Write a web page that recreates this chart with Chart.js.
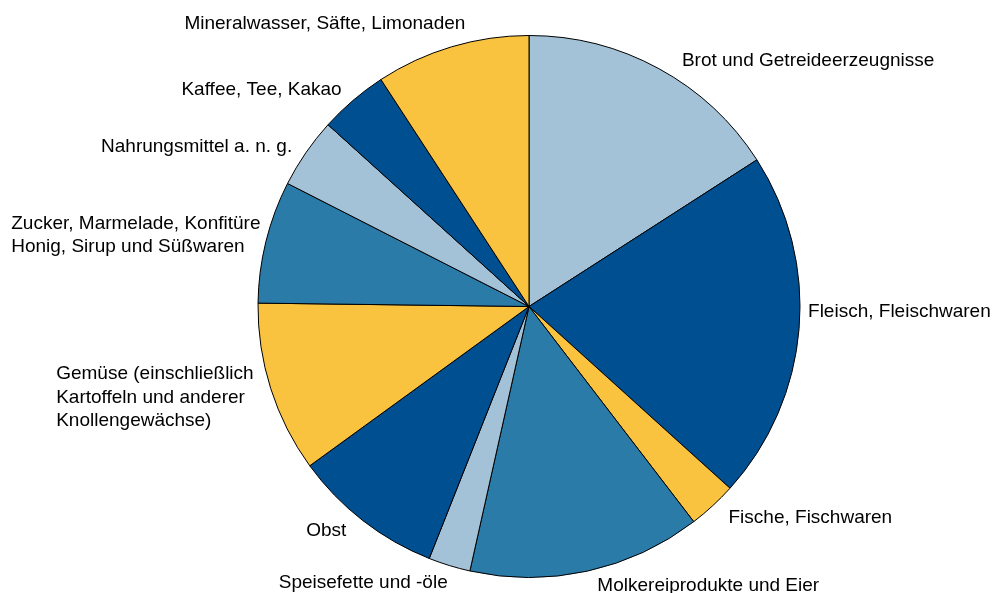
<!DOCTYPE html>
<html>
<head>
<meta charset="utf-8">
<title>Ausgaben für Nahrungsmittel</title>
<script src="https://cdn.jsdelivr.net/npm/chart.js@4"></script>
<style>
  body { margin: 0; background: #fff; }
  #wrap { width: 993px; height: 593px; }
</style>
</head>
<body>
<div id="wrap"><canvas id="myChart"></canvas></div>
<script>
// categories (clockwise from 12 o'clock), multi-line labels as arrays
const categories = [
    'Brot und Getreideerzeugnisse',
    'Fleisch, Fleischwaren',
    'Fische, Fischwaren',
    'Molkereiprodukte und Eier',
    'Speisefette und -öle',
    'Obst',
    ['Gemüse (einschließlich', 'Kartoffeln und anderer', 'Knollengewächse)'],
    ['Zucker, Marmelade, Konfitüre', 'Honig, Sirup und Süßwaren'],
    'Nahrungsmittel a. n. g.',
    'Kaffee, Tee, Kakao',
    'Mineralwasser, Säfte, Limonaden'
];
// share in %
const shares = [15.9, 20.8, 2.9, 13.9, 2.5, 9.0, 10.2, 7.3, 4.2, 4.1, 9.2];

// styling
const palette = ['#a4c2d7', '#004f91', '#f9c33f', '#2b7ba9'];
const sliceColors = shares.map((v, i) => palette[i % palette.length]);
// small per-label shifts [dx, dy] away from the default outside position
const labelNudge = [[14, 9], [-10, -18], [3, -2], [6, -4], [4, -1], [-5, -5], [1, 3], [13, -2], [2, 5], [1, 4], [19, -5]];

const labelFont = '19px "Liberation Sans", Arial, sans-serif';
const lineHeight = 23.5;
const labelGap = 19;

const outsideLabels = {
    id: 'outsideLabels',
    afterDatasetsDraw(chart) {
        const ctx = chart.ctx;
        const meta = chart.getDatasetMeta(0);
        ctx.save();
        ctx.font = labelFont;
        ctx.fillStyle = '#000';
        ctx.textAlign = 'left';
        ctx.textBaseline = 'middle';
        meta.data.forEach(function (arc, i) {
            const p = arc.getProps(['x', 'y', 'startAngle', 'endAngle', 'outerRadius'], true);
            const mid = (p.startAngle + p.endAngle) / 2;
            const r = p.outerRadius + labelGap;
            const ax = p.x + Math.cos(mid) * r + labelNudge[i][0];
            const ay = p.y + Math.sin(mid) * r + labelNudge[i][1];
            const lines = Array.isArray(categories[i]) ? categories[i] : [categories[i]];
            const blockW = Math.max.apply(null, lines.map(l => ctx.measureText(l).width));
            const left = Math.cos(mid) >= 0 ? ax : ax - blockW;
            const top = ay - lines.length * lineHeight / 2;
            lines.forEach(function (line, k) {
                ctx.fillText(line, left, top + lineHeight * (k + 0.5));
            });
        });
        ctx.restore();
    }
};

new Chart(document.getElementById('myChart'), {
    type: 'pie',
    data: {
        labels: categories,
        datasets: [{
            data: shares,
            backgroundColor: sliceColors,
            borderColor: '#000',
            borderWidth: 1
        }]
    },
    options: {
        responsive: true,
        maintainAspectRatio: false,
        animation: false,
        layout: { padding: { top: 35, bottom: 15, left: 245, right: 180 } },
        plugins: {
            legend: { display: false },
            tooltip: { enabled: false }
        }
    },
    plugins: [outsideLabels]
});
</script>
</body>
</html>
